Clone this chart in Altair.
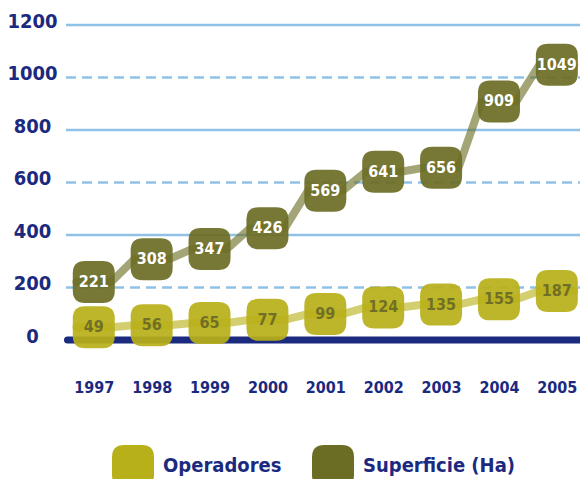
import altair as alt
import pandas as pd

years = [1997, 1998, 1999, 2000, 2001, 2002, 2003, 2004, 2005]
operadores = [49, 56, 65, 77, 99, 124, 135, 155, 187]
superficie = [221, 308, 347, 426, 569, 641, 656, 909, 1049]
series_names = ["Operadores", "Superficie (Ha)"]
series_colors = ["#b8b018", "#6b6d24"]
y_ticks = [0, 200, 400, 600, 800, 1000, 1200]
grid_values = [200, 400, 600, 800, 1000, 1200]
grid_styles = ["dashed", "solid", "dashed", "solid", "dashed", "solid"]

points = pd.DataFrame({
    "year": years * 2,
    "value": operadores + superficie,
    "serie": [series_names[0]] * len(years) + [series_names[1]] * len(years),
})
line_df = points.merge(pd.DataFrame({"edge": [-1, 1]}), how="cross")
grid_df = pd.DataFrame({"value": grid_values, "style": grid_styles})
base_df = pd.DataFrame({"value": [0]})

FONT = "DejaVu Sans Condensed"
NAVY = "#1b2a7f"
W, H = 514, 315
BOX = "M -0.42,-1 L 0.42,-1 Q 1,-1 1,-0.42 L 1,0.42 Q 1,1 0.42,1 L -0.42,1 Q -1,1 -1,0.42 L -1,-0.42 Q -1,-1 -0.42,-1 Z"

x_scale = alt.Scale(domain=[1996.52, 2005.4], nice=False, zero=False)
y_scale = alt.Scale(domain=[0, 1200], nice=False)
x_axis = alt.Axis(values=years, format="d", title=None, grid=False, domain=False,
                  ticks=False, tickSize=0, labelPadding=39, labelFont=FONT,
                  labelFontSize=16, labelFontWeight="bold", labelColor=NAVY,
                  labelOverlap=False, labelFlush=False)
y_axis = alt.Axis(values=y_ticks, format="d", title=None, grid=False, domain=False,
                  ticks=False, tickSize=0, labelPadding=34, labelAlign="center",
                  labelOffset=-4, labelFont=FONT, labelFontSize=20,
                  labelFontWeight="bold", labelColor=NAVY, labelOverlap=False)

X = alt.X("year:Q", scale=x_scale, axis=x_axis)
Y = alt.Y("value:Q", scale=y_scale, axis=y_axis)
color_scale = alt.Scale(domain=series_names, range=series_colors)

grid = alt.Chart(grid_df).mark_rule(color="#90c2e8", strokeWidth=2.5).encode(
    y=Y, x=alt.value(0), x2=alt.value(W),
    strokeDash=alt.StrokeDash("style:N", scale=alt.Scale(domain=["solid", "dashed"], range=[[1, 0], [10, 6]]), legend=None),
)

base = alt.Chart(base_df).mark_rule(color=NAVY, strokeWidth=7, strokeCap="round").encode(
    y=Y, x=alt.value(1.5), x2=alt.value(W)
)


def series_line(name, col):
    return alt.Chart(line_df).transform_filter(alt.datum.serie == name).transform_calculate(
        xp="datum.year + datum.edge * 0.3"
    ).mark_line(strokeWidth=8, opacity=0.62, strokeCap="round", color=col).encode(
        x=alt.X("xp:Q", scale=x_scale, axis=x_axis),
        y=Y,
        order="xp:Q",
    )


line_op = series_line(series_names[0], series_colors[0])
line_sup = series_line(series_names[1], series_colors[1])

boxes = alt.Chart(points).mark_point(shape=BOX, size=1764, filled=True, opacity=0.92, strokeWidth=0).encode(
    x=X, y=Y,
    color=alt.Color("serie:N", scale=color_scale, legend=alt.Legend(
        orient="none", legendX=46, legendY=420, direction="horizontal", title=None,
        symbolType=BOX, symbolSize=1764, symbolOpacity=1, symbolStrokeWidth=0,
        labelFont=FONT, labelFontSize=20, labelFontWeight="bold", labelColor=NAVY,
        labelOffset=9, columnPadding=30, padding=0, labelLimit=300,
    )),
)

txt_sup = alt.Chart(points).transform_filter(alt.datum.serie == series_names[1]).mark_text(
    font=FONT, fontSize=16, fontWeight="bold", color="white"
).encode(x=X, y=Y, text="value:Q")

txt_op = alt.Chart(points).transform_filter(alt.datum.serie == series_names[0]).mark_text(
    font=FONT, fontSize=16, fontWeight="bold", color="#5f5f28", opacity=0.8
).encode(x=X, y=Y, text="value:Q")

chart = alt.layer(grid, base, line_op, line_sup, boxes, txt_sup, txt_op).properties(
    width=W, height=H,
    padding={"left": 58, "top": 17, "right": 0, "bottom": 139},
    autosize=alt.AutoSizeParams(type="none"),
).configure_view(stroke=None)

chart.save("out.html", embed_options={"renderer": "svg", "actions": False})
